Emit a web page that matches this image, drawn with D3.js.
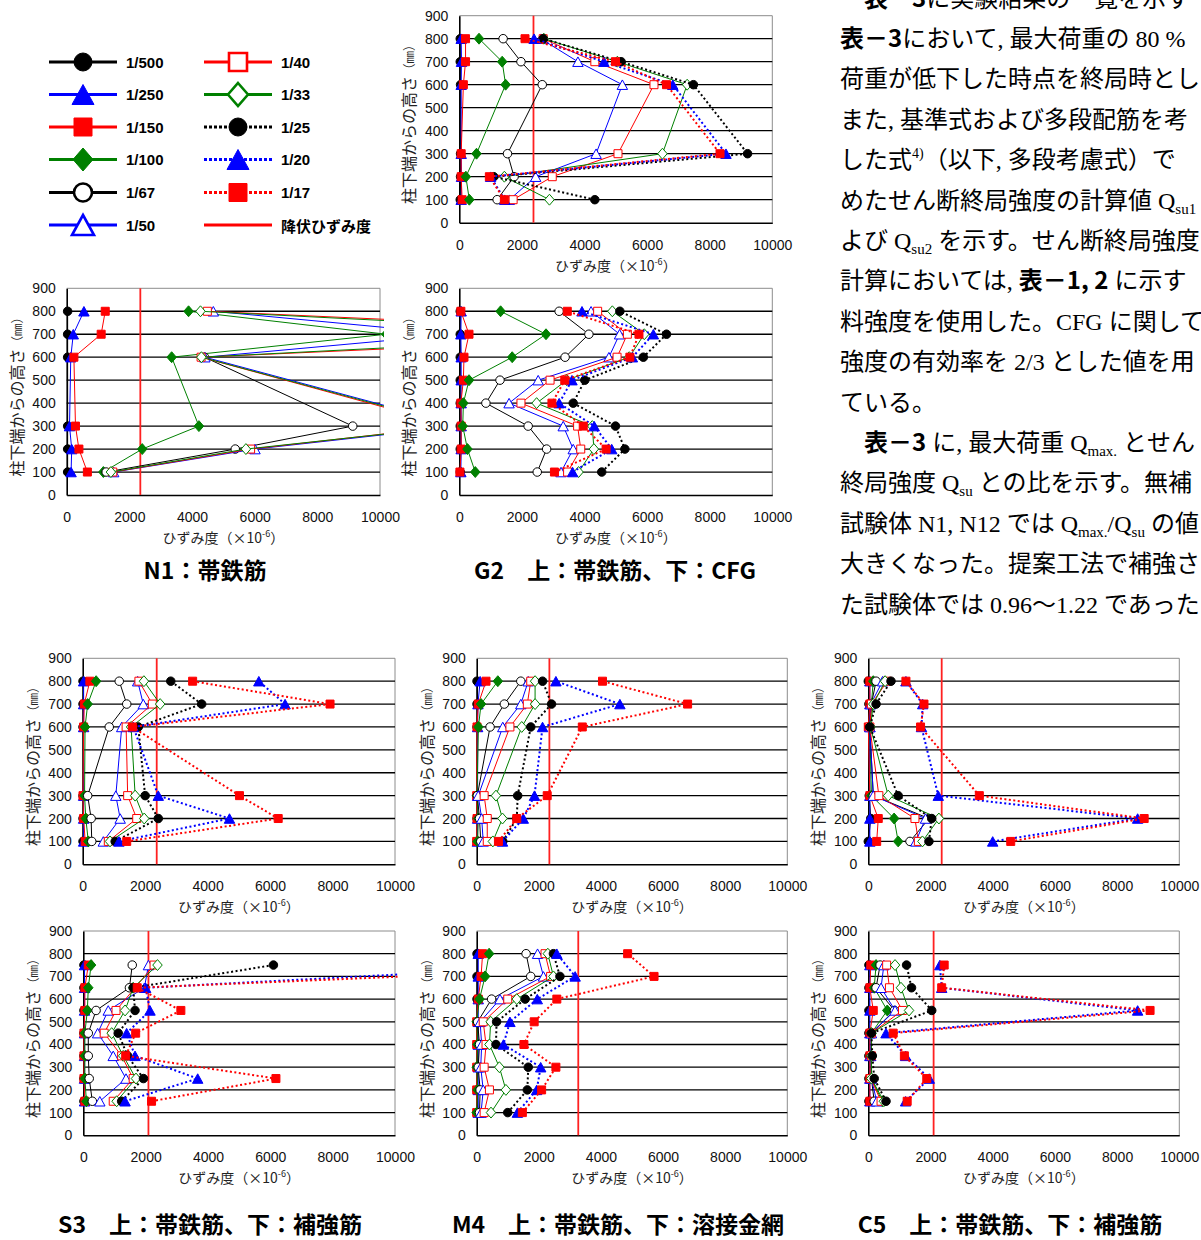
<!DOCTYPE html>
<html><head><meta charset="utf-8">
<script src="https://cdn.jsdelivr.net/npm/d3@7"></script>
<style>body{margin:0;background:#fff} svg{display:block}</style>
</head><body>
<svg id="c" width="1201" height="1240"></svg>
<script>
// ---------------- DATA ----------------
const seriesNames = ["1/500","1/250","1/150","1/100","1/67","1/50","1/40","1/33","1/25","1/20","1/17"];
const yieldLabel = "降伏ひずみ度";
const heights6 = [100,200,300,600,700,800];
const heights8 = [100,200,300,400,500,600,700,800];
const heights7 = [150,250,350,450,550,650,750];
const xTicks = [0,2000,4000,6000,8000,10000];
const yTicks = [0,100,200,300,400,500,600,700,800,900];
const gridValues = [100,200,300,400,500,600,700,800];

// strain (x10^-6), one row per series in seriesNames order, values at the panel's heights
const strainG2Upper = [
  [30,40,40,40,30,30],
  [60,70,60,60,70,60],
  [90,60,60,130,200,200],
  [320,210,550,1480,1370,630],
  [1210,1750,1540,2650,1970,1400],
  [1600,2440,4370,5210,3790,2600],
  [1720,2970,5070,6220,4330,2680],
  [2880,1440,6490,7280,5050,2700],
  [4330,1100,9210,7480,5170,2680],
  [1450,1000,8520,6820,4620,2390],
  [1440,960,8330,6620,4990,2100]
];
const strainN1 = [
  [30,30,30,30,30,30],
  [140,160,90,130,210,550],
  [660,390,280,230,1100,1230],
  [1170,2410,4220,3350,10200,3890],
  [1260,5380,9130,4400,null,null],
  [1500,6010,12600,4410,12450,4680],
  [1470,5870,12340,4290,20640,4490],
  [1410,5720,12500,4300,18800,4270],
  [null,null,null,null,null,null],
  [null,null,null,null,null,null],
  [null,null,null,null,null,null]
];
const strainG2Lower = [
  [30,30,30,30,30,30,30,30],
  [50,60,60,60,60,60,50,60],
  [20,60,60,50,130,150,310,50],
  [510,260,110,130,310,1690,2770,1320],
  [2490,2790,2200,850,1300,3380,4140,3190],
  [3250,3640,3320,1590,2520,4780,5120,4210],
  [3460,3880,3780,1970,2900,5040,5370,4420],
  [3810,4300,4250,2470,3430,5430,5910,4890],
  [4550,5290,4990,3640,4010,5880,6620,5130],
  [3620,4870,4310,3190,3600,5530,6200,3920],
  [3040,4690,3960,2960,3370,5450,5740,3450]
];
const strainS3Upper = [
  [10,10,10,10,10,10],
  [30,30,30,30,30,30],
  [80,30,10,30,50,230],
  [180,100,60,75,160,430],
  [290,270,160,850,1410,1170],
  [660,1200,1060,1250,1940,1760],
  [820,1730,1440,1390,2230,1800],
  [875,1970,1680,1550,2480,1960],
  [1040,2420,2000,1780,3810,2820],
  [1160,4700,2420,1620,6480,5640],
  [1410,6260,5020,1590,7920,3520]
];
const strainM4Upper = [
  [10,10,10,10,10,10],
  [20,30,30,30,40,110],
  [0,10,0,10,50,300],
  [30,50,10,55,140,680],
  [130,90,20,430,890,1420],
  [210,160,50,840,1420,1660],
  [340,340,240,1070,1630,1740],
  [520,830,620,1450,1880,1880],
  [840,1290,1320,1740,2410,2120],
  [830,1500,1860,2120,4610,2550],
  [700,1290,2270,3400,6790,4050]
];
const strainC5Upper = [
  [0,80,30,20,20,0],
  [50,50,50,50,50,50],
  [270,320,50,0,50,50],
  [960,830,100,50,100,160],
  [1340,1950,160,50,100,250],
  [1530,1840,160,50,80,460],
  [1610,1500,340,50,100,610],
  [1740,2270,640,70,160,540],
  [1950,2040,960,50,250,730],
  [4000,8660,2250,1710,1750,1210],
  [4580,8870,3570,1680,1790,1210]
];
const strainS3Lower = [
  [20,20,20,20,20,20,20],
  [40,40,40,40,40,40,40],
  [50,20,20,20,50,50,160],
  [100,50,50,50,130,160,250],
  [290,190,160,160,410,1480,1570],
  [530,1370,960,460,800,1960,2090],
  [960,1600,1230,670,1050,1660,2270],
  [1070,1690,1280,910,1340,1600,2380],
  [1230,1930,1420,1120,1660,1600,6100],
  [1340,3670,1660,1390,2140,2000,15900],
  [2190,6180,1360,1680,3130,1730,19000]
];
const strainM4Lower = [
  [10,10,10,10,10,10,10,10],
  [50,50,50,50,50,50,50,50],
  [0,0,0,0,0,50,140,190],
  [0,30,0,30,0,90,270,400],
  [90,110,50,90,30,480,1740,1590],
  [140,210,130,160,110,750,2150,1960],
  [240,410,240,300,210,1000,2380,2200],
  [460,940,730,410,450,1290,2470,2290],
  [1000,1630,1660,620,640,1560,2680,2470],
  [1310,1930,2060,860,1070,1950,3170,2580],
  [1470,2090,2550,1520,1850,2580,5710,4860]
];
const strainC5Lower = [
  [20,20,20,20,20,20,20],
  [50,50,50,50,50,50,50],
  [50,50,50,50,160,50,80],
  [450,100,100,100,610,190,250],
  [190,100,100,100,840,250,380],
  [270,100,80,100,860,410,500],
  [410,80,100,100,1100,680,590],
  [500,100,100,100,1310,1050,860],
  [570,190,130,100,2040,1390,1230],
  [1200,1960,1200,570,8660,2360,2300],
  [1250,1880,1160,800,9060,2360,2440]
];
// yield strain per panel (null = no line)
const yieldStrain = [2370, 2350, null, 2370, 2340, 2360, 2090, 3270, 2100];

const panelTitles = ["N1：帯鉄筋","G2　上：帯鉄筋、下：CFG","S3　上：帯鉄筋、下：補強筋","M4　上：帯鉄筋、下：溶接金網","C5　上：帯鉄筋、下：補強筋"];

const bodyLines = [
  [["　"],["表－3","b"],["に実験結果の一覧を示す"]],
  [["表－3","b"],["において, 最大荷重の 80 %"]],
  [["荷重が低下した時点を終局時とし"]],
  [["また, 基準式および多段配筋を考"]],
  [["した式"],["4)","sup"],["（以下, 多段考慮式）で"]],
  [["めたせん断終局強度の計算値 Q"],["su1","sub"]],
  [["よび Q"],["su2","sub"],[" を示す。せん断終局強度"]],
  [["計算においては, "],["表－1, 2","b"],[" に示す"]],
  [["料強度を使用した。CFG に関して"]],
  [["強度の有効率を 2/3 とした値を用"]],
  [["ている。"]],
  [["　"],["表－3","b"],[" に, 最大荷重 Q"],["max.","sub"],[" とせん"]],
  [["終局強度  Q"],["su","sub"],[" との比を示す。無補"]],
  [["試験体 N1, N12 では Q"],["max.","sub"],["/Q"],["su","sub"],[" の値"]],
  [["大きくなった。提案工法で補強さ"]],
  [["た試験体では 0.96～1.22 であった"]]
];

// ---------------- STYLE / LAYOUT ----------------
const C = {k:"#000000", b:"#0000ff", r:"#ff0000", g:"#008000"};
const seriesStyle = [
  {c:C.k, shape:"circle",   fill:true,  dot:false},
  {c:C.b, shape:"triangle", fill:true,  dot:false},
  {c:C.r, shape:"square",   fill:true,  dot:false},
  {c:C.g, shape:"diamond",  fill:true,  dot:false},
  {c:C.k, shape:"circle",   fill:false, dot:false},
  {c:C.b, shape:"triangle", fill:false, dot:false},
  {c:C.r, shape:"square",   fill:false, dot:false},
  {c:C.g, shape:"diamond",  fill:false, dot:false},
  {c:C.k, shape:"circle",   fill:true,  dot:true},
  {c:C.b, shape:"triangle", fill:true,  dot:true},
  {c:C.r, shape:"square",   fill:true,  dot:true}
];
const panels = [
  {data:strainG2Upper, h:heights6, L:459.3, R:772.3, T:15.7,  B:222.7},
  {data:strainN1,      h:heights6, L:66.7,  R:380,   T:288.3, B:495},
  {data:strainG2Lower, h:heights8, L:459.3, R:772.3, T:288.3, B:495},
  {data:strainS3Upper, h:heights6, L:82.7,  R:395,   T:658.3, B:864.3},
  {data:strainM4Upper, h:heights6, L:476.7, R:787.3, T:658.3, B:864.3},
  {data:strainC5Upper, h:heights6, L:868.3, R:1179.3,T:658.3, B:864.3},
  {data:strainS3Lower, h:heights7, L:83.3,  R:395,   T:931,   B:1135.3},
  {data:strainM4Lower, h:heights8, L:476.7, R:787.3, T:931,   B:1135.3},
  {data:strainC5Lower, h:heights7, L:868.3, R:1179.3,T:931,   B:1135.3}
];
const titlePos = [[205,579],[615,579],[210,1233],[618,1233],[1010,1233]];

const NUMF = "'Liberation Sans', Arial, sans-serif";
const CJK = "'Noto Sans CJK JP', sans-serif";
const svg = d3.select("#c");

function markerPath(shape, s){
  if(shape==="circle") return d3.symbol().type(d3.symbolCircle).size(Math.PI*(s/2)*(s/2))();
  if(shape==="square") return `M${-s/2},${-s/2}h${s}v${s}h${-s}Z`;
  if(shape==="triangle"){const w=s*1.1,h=s;return `M0,${-h/2}L${w/2},${h/2}L${-w/2},${h/2}Z`;}
  if(shape==="diamond"){const w=s,h=s*1.15;return `M0,${-h/2}L${w/2},0L0,${h/2}L${-w/2},0Z`;}
}
const mSize = {circle:8.5, square:8, triangle:9.5, diamond:9.5};

panels.forEach((p,pi)=>{
  const x = d3.scaleLinear().domain([0,10000]).range([p.L,p.R]);
  const y = d3.scaleLinear().domain([0,900]).range([p.B,p.T]);
  const g = svg.append("g");
  const cid = "clip"+pi;
  svg.append("clipPath").attr("id",cid).append("rect")
    .attr("x",p.L-12).attr("y",p.T-8).attr("width",p.R-p.L+16).attr("height",p.B-p.T+16);
  // border top/right
  g.append("path").attr("d",`M${p.L},${y(900)}H${p.R}V${p.B}`).attr("fill","none").attr("stroke","#8c8c8c").attr("stroke-width",1);
  // grid
  g.selectAll("line.grid").data(gridValues).join("line").attr("class","grid")
    .attr("x1",p.L).attr("x2",p.R).attr("y1",d=>y(d)).attr("y2",d=>y(d))
    .attr("stroke","#000").attr("stroke-width",1.3);
  // axes
  const gy = g.append("g").attr("transform",`translate(${p.L},0)`)
    .call(d3.axisLeft(y).tickValues(yTicks).tickSize(0).tickPadding(11).tickFormat(d3.format("d")));
  gy.select(".domain").attr("stroke","#000").attr("stroke-width",1.6);
  gy.selectAll("text").attr("font-family",NUMF).attr("font-size",14).attr("fill","#111");
  const gx = g.append("g").attr("transform",`translate(0,${p.B})`)
    .call(d3.axisBottom(x).tickValues(xTicks).tickSize(0).tickPadding(17).tickFormat(d3.format("d")));
  gx.select(".domain").attr("stroke","#000").attr("stroke-width",1.6);
  gx.selectAll("text").attr("font-family",NUMF).attr("font-size",14).attr("fill","#111");
  // axis titles
  const xt = g.append("text").attr("x",(p.L+p.R)/2).attr("y",p.B+48).attr("text-anchor","middle")
    .attr("font-family",CJK).attr("font-size",14).attr("fill","#222");
  xt.append("tspan").text("ひずみ度（×10");
  xt.append("tspan").text("-6").attr("font-size",9).attr("dy",-6);
  xt.append("tspan").text("）").attr("dy",6);
  const yt = g.append("text").attr("transform",`translate(${p.L-51},${(p.T+p.B)/2+2}) rotate(-90)`)
    .attr("text-anchor","middle").attr("dominant-baseline","central")
    .attr("font-family",CJK).attr("font-size",16).attr("fill","#222");
  yt.append("tspan").text("柱下端からの高さ");
  yt.append("tspan").text("（㎜）").attr("font-size",12.5);
  // yield line
  if(yieldStrain[pi]!=null){
    g.append("line").attr("x1",x(yieldStrain[pi])).attr("x2",x(yieldStrain[pi]))
      .attr("y1",p.T).attr("y2",p.B).attr("stroke","#ff2020").attr("stroke-width",1.8);
  }
  // series
  const sg = g.append("g").attr("clip-path",`url(#${cid})`);
  const line = d3.line().x(d=>x(d.v)).y(d=>y(d.h));
  p.data.forEach((row,si)=>{
    const st = seriesStyle[si];
    const pts = row.map((v,i)=>({v:v,h:p.h[i]})).filter(d=>d.v!=null);
    if(!pts.length) return;
    sg.append("path").datum(pts).attr("d",line).attr("fill","none")
      .attr("stroke",st.c).attr("stroke-width",st.dot?2:1)
      .attr("stroke-dasharray",st.dot?"2,2.5":null);
    sg.selectAll(null).data(pts).join("path")
      .attr("transform",d=>`translate(${x(d.v)},${y(d.h)})`)
      .attr("d",markerPath(st.shape,mSize[st.shape]))
      .attr("fill",st.fill?st.c:"#fff").attr("stroke",st.c).attr("stroke-width",1);
  });
});

// titles
panelTitles.forEach((t,i)=>{
  svg.append("text").attr("x",titlePos[i][0]).attr("y",titlePos[i][1]).attr("text-anchor","middle")
    .attr("font-family",CJK).attr("font-weight",700).attr("font-size",23).attr("fill","#000").text(t);
});

// legend
const legSize = {circle:18, square:18, triangle:20, diamond:20};
const legRowY = [62,94.5,127,159.5,192.5,225];
const legItems = seriesNames.map((n,i)=>({name:n, st:seriesStyle[i]}));
legItems.push({name:yieldLabel, st:null});
legItems.forEach((it,i)=>{
  const col = i<6?0:1, row = i%6;
  const x0 = col===0?49:204, x1 = col===0?117:272, mx = col===0?83:238, tx = col===0?126:281;
  const yy = legRowY[row];
  const gL = svg.append("g");
  if(it.st){
    gL.append("line").attr("x1",x0).attr("x2",x1).attr("y1",yy).attr("y2",yy)
      .attr("stroke",it.st.c).attr("stroke-width",3.2).attr("stroke-dasharray",it.st.dot?"3,2":null);
    gL.append("path").attr("transform",`translate(${mx},${yy})`)
      .attr("d",markerPath(it.st.shape,legSize[it.st.shape]))
      .attr("fill",it.st.fill?it.st.c:"#fff").attr("stroke",it.st.c).attr("stroke-width",it.st.fill?1:2.6);
    gL.append("text").attr("x",tx).attr("y",yy).attr("dominant-baseline","central")
      .attr("font-family",NUMF).attr("font-weight","bold").attr("font-size",15).text(it.name);
  } else {
    gL.append("line").attr("x1",x0).attr("x2",x1).attr("y1",yy).attr("y2",yy)
      .attr("stroke","#ff0000").attr("stroke-width",3);
    gL.append("text").attr("x",tx).attr("y",yy).attr("dominant-baseline","central")
      .attr("font-family",CJK).attr("font-weight","bold").attr("font-size",15).text(it.name);
  }
});

// body text
const SERIF = "'Liberation Serif', 'Noto Sans CJK JP', serif";
bodyLines.forEach((segs,k)=>{
  const t = svg.append("text").attr("x",840).attr("y",6.6+40.4*k)
    .attr("font-family",SERIF).attr("font-size",24).attr("fill","#000");
  let shift = 0;
  segs.forEach(s=>{
    const ts = t.append("tspan").text(s[0]);
    let target = 0;
    if(s[1]==="b"){ ts.attr("font-family",CJK).attr("font-weight",700); }
    if(s[1]==="sub"){ ts.attr("font-size",15); target = 5; }
    if(s[1]==="sup"){ ts.attr("font-size",14); target = -10; }
    if(target!==shift){ ts.attr("dy",target-shift); shift = target; }
  });
});
</script>
</body></html>
